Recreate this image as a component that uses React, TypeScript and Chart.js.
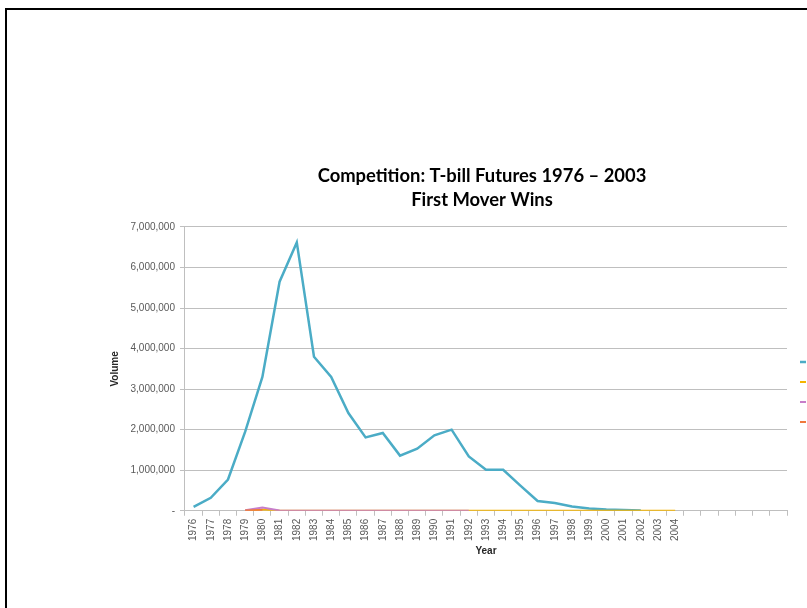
import React, { useEffect, useRef } from "react";
import { Chart, registerables } from "chart.js";

Chart.register(...registerables);

// Category axis: years (the axis continues with empty slots after 2004)
const categories: string[] = [
  "1976", "1977", "1978", "1979", "1980", "1981", "1982", "1983", "1984", "1985",
  "1986", "1987", "1988", "1989", "1990", "1991", "1992", "1993", "1994", "1995",
  "1996", "1997", "1998", "1999", "2000", "2001", "2002", "2003", "2004",
  "", "", "", "", "", "",
];

const seriesNames: string[] = ["CME (IMM)", "MidAmerica Commodity Exchange", "Chicago Board of Trade", "Commodity Exchange"];

// Volumes
const cmeVolume: (number | null)[] = [
  95000, 320000, 770000, 1950000, 3300000, 5650000, 6620000, 3800000, 3300000, 2410000,
  1810000, 1920000, 1360000, 1530000, 1860000, 2000000, 1340000, 1010000, 1010000, 620000,
  240000, 190000, 105000, 55000, 30000, 20000, 5000, null, null,
  null, null, null, null, null, null,
];

const goldVolume: (number | null)[] = [
  null, null, null, 0, 30000, 0, 0, 0, 0, 0,
  0, 0, 0, 0, 0, 0, 0, 0, 0, 0,
  0, 0, 0, 0, 0, 0, 0, 0, 0,
  null, null, null, null, null, null,
];

const purpleVolume: (number | null)[] = [
  null, null, null, 15000, 80000, 8000, 0, 0, 0, 0,
  0, 0, 0, 0, 0, 0, 0, null, null, null,
  null, null, null, null, null, null, null, null, null,
  null, null, null, null, null, null,
];

const orangeVolume: (number | null)[] = [
  null, null, null, 5000, 20000, null, null, null, null, null,
  null, null, null, null, null, null, null, null, null, null,
  null, null, null, null, null, null, null, null, null,
  null, null, null, null, null, null,
];

const titleLines: string[] = ["Competition: T-bill Futures 1976 \u2013 2003", "First Mover Wins"];

const TICK_FONT = "'Liberation Sans', Arial, sans-serif";

export default function App() {
  const canvasRef = useRef<HTMLCanvasElement>(null);

  useEffect(() => {
    if (!canvasRef.current) return;
    const chart = new Chart(canvasRef.current, {
      type: "line",
      data: {
        labels: categories,
        datasets: [
          { label: seriesNames[0], data: cmeVolume, borderColor: "#4BACC6", backgroundColor: "#4BACC6", borderWidth: 2.5, pointRadius: 0, order: 4 },
          { label: seriesNames[1], data: goldVolume, borderColor: "#F5B400", backgroundColor: "#F5B400", borderWidth: 2, pointRadius: 0, order: 3 },
          { label: seriesNames[2], data: purpleVolume, borderColor: "#C77DC9", backgroundColor: "#C77DC9", borderWidth: 2, pointRadius: 0, order: 2 },
          { label: seriesNames[3], data: orangeVolume, borderColor: "#F0783C", backgroundColor: "#F0783C", borderWidth: 2, pointRadius: 0, order: 1 },
        ],
      },
      options: {
        animation: false,
        responsive: true,
        maintainAspectRatio: false,
        spanGaps: false,
        layout: { padding: { left: 109, top: 144, right: 0, bottom: 0 } },
        plugins: {
          tooltip: { enabled: false },
          title: {
            display: true,
            text: titleLines,
            color: "#000",
            font: { family: "Lato, 'Open Sans', sans-serif", size: 18.4, weight: "bold", lineHeight: 1.304 },
            padding: { top: 20, bottom: 15 },
          },
          legend: {
            display: true,
            position: "right",
            fullSize: true,
            reverse: true,
            maxWidth: 68,
            align: "center",
            labels: {
              usePointStyle: true,
              pointStyle: "line",
              boxWidth: 8,
              boxHeight: 4.24,
              padding: 12,
              color: "#595959",
              font: { family: TICK_FONT, size: 8 },
            },
          },
        },
        scales: {
          x: {
            type: "category",
            offset: true,
            grid: { offset: true, drawOnChartArea: false, drawTicks: true, tickLength: 5, color: "#bfbfbf" },
            border: { display: true, color: "#bfbfbf" },
            ticks: {
              autoSkip: false,
              minRotation: 90,
              maxRotation: 90,
              padding: 3,
              color: "#595959",
              font: { family: TICK_FONT, size: 10 },
            },
            title: {
              display: true,
              text: "Year",
              color: "#262626",
              font: { family: TICK_FONT, size: 10, weight: "bold" },
              padding: { top: 1, bottom: 83 },
            },
          },
          y: {
            min: 0,
            max: 7000000,
            grid: { color: "#bfbfbf", tickLength: 5 },
            border: { display: true, color: "#bfbfbf" },
            ticks: {
              stepSize: 1000000,
              padding: 5,
              color: "#595959",
              font: { family: TICK_FONT, size: 10 },
              callback: (v: any) => (Number(v) === 0 ? "-" : Number(v).toLocaleString("en-US")),
            },
            title: {
              display: true,
              text: "Volume",
              color: "#262626",
              font: { family: TICK_FONT, size: 10, weight: "bold" },
              padding: { top: 0, bottom: 4.5 },
            },
          },
        },
      },
    });
    return () => chart.destroy();
  }, []);

  return (
    <div style={{ position: "fixed", left: 0, top: 0, width: 807, height: 608, overflow: "hidden", background: "#fff" }}>
      <div style={{ position: "absolute", left: 5, top: 8, width: 1000, height: 1000, border: "2px solid #000", boxSizing: "border-box" }} />
      <div style={{ position: "absolute", left: 0, top: 0, width: 855, height: 640 }}>
        <canvas ref={canvasRef} />
      </div>
    </div>
  );
}
